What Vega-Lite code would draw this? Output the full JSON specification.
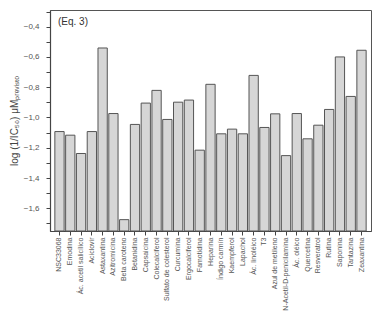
{
  "$schema": "https://vega.github.io/schema/vega-lite/v6.json",
  "width": 321,
  "height": 221,
  "autosize": {"type": "none"},
  "padding": {"left": 50, "top": 10, "right": 12, "bottom": 82},
  "background": "white",
  "title": {"text": "(Eq. 3)", "anchor": "start", "frame": "group", "dx": 8, "dy": 21, "fontSize": 10, "fontWeight": "normal", "font": "Liberation Sans", "color": "#333"},
  "config": {
    "view": {"stroke": "#555", "strokeWidth": 1},
    "axis": {"labelFont": "Liberation Sans", "titleFont": "Liberation Sans", "domainColor": "#444", "tickColor": "#444", "labelColor": "#555", "grid": false}
  },
  "data": {"values": [
    {"compuesto": "NSC33068", "v": -1.093},
    {"compuesto": "Emodina", "v": -1.117},
    {"compuesto": "Ác. acetil  salicílico", "v": -1.238},
    {"compuesto": "Aciclovir", "v": -1.093},
    {"compuesto": "Astaxantina", "v": -0.541},
    {"compuesto": "Azitromicina", "v": -0.974},
    {"compuesto": "Beta caroteno", "v": -1.675},
    {"compuesto": "Betanidina", "v": -1.046},
    {"compuesto": "Capsaicina", "v": -0.905},
    {"compuesto": "Colecalciferol", "v": -0.821},
    {"compuesto": "Sulfato de colesterol", "v": -1.013},
    {"compuesto": "Curcumina", "v": -0.899},
    {"compuesto": "Ergocalciferol", "v": -0.885},
    {"compuesto": "Famotidina", "v": -1.216},
    {"compuesto": "Heparina", "v": -0.781},
    {"compuesto": "Índigo carmín", "v": -1.108},
    {"compuesto": "Kaempferol", "v": -1.077},
    {"compuesto": "Lapachol", "v": -1.108},
    {"compuesto": "Ác. linoléico", "v": -0.722},
    {"compuesto": "T3", "v": -1.066},
    {"compuesto": "Azul de metileno", "v": -0.976},
    {"compuesto": "N-Acetil-D-penicilamina", "v": -1.252},
    {"compuesto": "Ác. oléico", "v": -0.974},
    {"compuesto": "Quercetina", "v": -1.141},
    {"compuesto": "Resveratrol", "v": -1.051},
    {"compuesto": "Rutina", "v": -0.947},
    {"compuesto": "Saponina", "v": -0.6},
    {"compuesto": "Tantazina", "v": -0.861},
    {"compuesto": "Zeaxantina", "v": -0.556}
  ]},
  "mark": {"type": "bar", "fill": "#d6d6d6", "stroke": "#555", "strokeWidth": 1},
  "encoding": {
    "x": {
      "field": "compuesto", "type": "nominal", "sort": null,
      "scale": {"paddingInner": 0.14, "paddingOuter": 0.45},
      "axis": {"title": null, "labelAngle": -90, "labelFontSize": 7, "tickSize": 4, "labelPadding": 2, "domainWidth": 1.2}
    },
    "y": {
      "field": "v", "type": "quantitative",
      "scale": {"domain": [-1.75, -0.29], "zero": false, "nice": false},
      "axis": {
        "values": [-1.7, -1.6, -1.5, -1.4, -1.3, -1.2, -1.1, -1.0, -0.9, -0.8, -0.7, -0.6, -0.5, -0.4, -0.3],
        "labelExpr": "abs(round(datum.value*10)) % 2 == 0 ? replace(format(datum.value, '.1f'), '.', ',') : ''",
        "labelFontSize": 8, "tickSize": 4, "labelPadding": 7, "domainWidth": 1.2,
        "encode": {"ticks": {"update": {"x2": {"signal": "abs(round(datum.value*10)) % 2 == 0 ? -4 : -2"}}}},
        "title": "log (1/IC₅₀) μMₚᵣₑᵥᵢₛₜₒ", "titleFontSize": 10, "titleFontWeight": "normal", "titleColor": "#444", "titlePadding": 4
      }
    },
    "y2": {"datum": -1.75}
  }
}
